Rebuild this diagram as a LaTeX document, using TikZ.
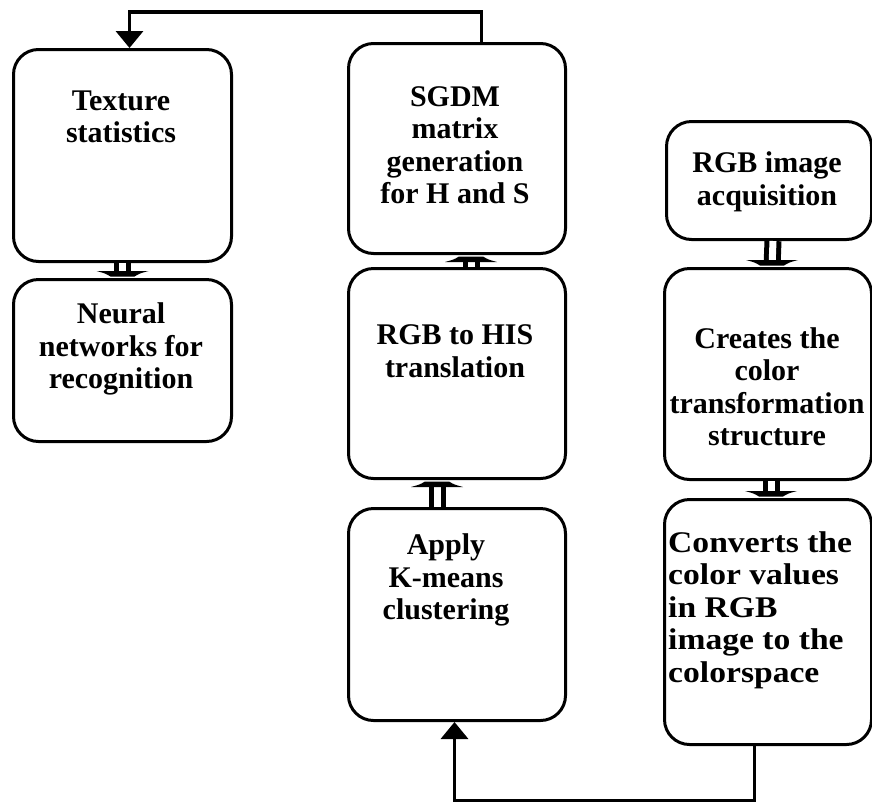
\documentclass[tikz,border=0pt]{standalone}
\usepackage{fontspec}
\setmainfont{Liberation Serif}
\usetikzlibrary{arrows.meta}
\begin{document}
\begin{tikzpicture}[x=1pt,y=-1pt,
  box/.style={draw, line width=3pt, rounded corners=25pt, anchor=north west, inner sep=0pt},
  txt/.style={font=\fontsize{30}{32.5}\selectfont\bfseries, align=center, inner sep=0pt},
  tube/.style={double, double distance=7pt, line width=5pt, shorten >=5pt},
  sgl/.style={line width=3.5pt, -{Triangle[length=17pt,width=27pt]}},
  headdown/.pic={\fill (-12,0) .. controls (-17,-3) .. (-26,-5.5) -- (26,-5.5) .. controls (17,-3) .. (12,0) -- cycle;},
  headup/.pic={\fill (-12,0) .. controls (-17,3) .. (-26,5.5) -- (26,5.5) .. controls (17,3) .. (12,0) -- cycle;}
]
\useasboundingbox (0,0) rectangle (872,801);
% boxes
\node[box, minimum width=218pt, minimum height=212pt] (A) at (12,48) {};
\node[box, minimum width=218pt, minimum height=162pt] (B) at (12,278) {};
\node[box, minimum width=217pt, minimum height=210pt] (C) at (347,42) {};
\node[box, minimum width=217pt, minimum height=210pt] (D) at (347,267) {};
\node[box, minimum width=217pt, minimum height=212pt] (E) at (347,507) {};
\node[box, minimum width=205pt, minimum height=118pt] (F) at (665,120) {};
\node[box, minimum width=207pt, minimum height=211pt] (G) at (663,267) {};
\node[box, minimum width=207pt, minimum height=245pt] (H) at (663,498) {};
% texts
\node[txt] (tA) at (121,117) {Texture\\statistics};
\node[txt] (tB) at (121,349) {Neural\\networks for\\recognition};
\node[txt] (tC) at (455,145) {SGDM\\matrix\\generation\\for H and S};
\node[txt] (tD) at (455,351) {RGB to HIS\\translation};
\node[txt] (tE) at (446,580) {Apply\\K-means\\clustering};
\node[txt] (tF) at (767,182) {RGB image\\acquisition};
\node[txt] (tG) at (767,387) {Creates the\\color\\transformation\\structure};
\node[txt, align=left, anchor=west, xscale=1.12] (tH) at (668,610) {Converts the\\color values\\in RGB\\image to the\\colorspace};
% double arrows
\draw[tube] (A.south) -- (B.north);
\pic at ([yshift=1.5pt]B.north) {headdown};
\draw[tube] ([xshift=14pt]D.north) -- ([xshift=14pt]C.south);
\pic at ([xshift=14pt,yshift=-1.5pt]C.south) {headup};
\draw[tube] ([xshift=-20pt]E.north) -- ([xshift=-20pt]D.south);
\pic at ([xshift=-20pt,yshift=-1.5pt]D.south) {headup};
\draw[tube] ([xshift=4pt]F.south) -- ([xshift=4pt]G.south |- G.north);
\pic at ([xshift=4pt,yshift=1.5pt]G.south |- G.north) {headdown};
\draw[tube] ([xshift=3pt]G.south) -- ([xshift=3pt]H.north);
\pic at ([xshift=3pt,yshift=1.5pt]H.north) {headdown};
% single connectors
\draw[sgl] ([xshift=24.5pt]C.north) -- ++(0,-30) -| ([xshift=7pt]A.north);
\draw[sgl] ([xshift=-13.5pt]H.south) -- ++(0,55) -| ([xshift=-2.5pt]E.south);
\end{tikzpicture}
\end{document}
